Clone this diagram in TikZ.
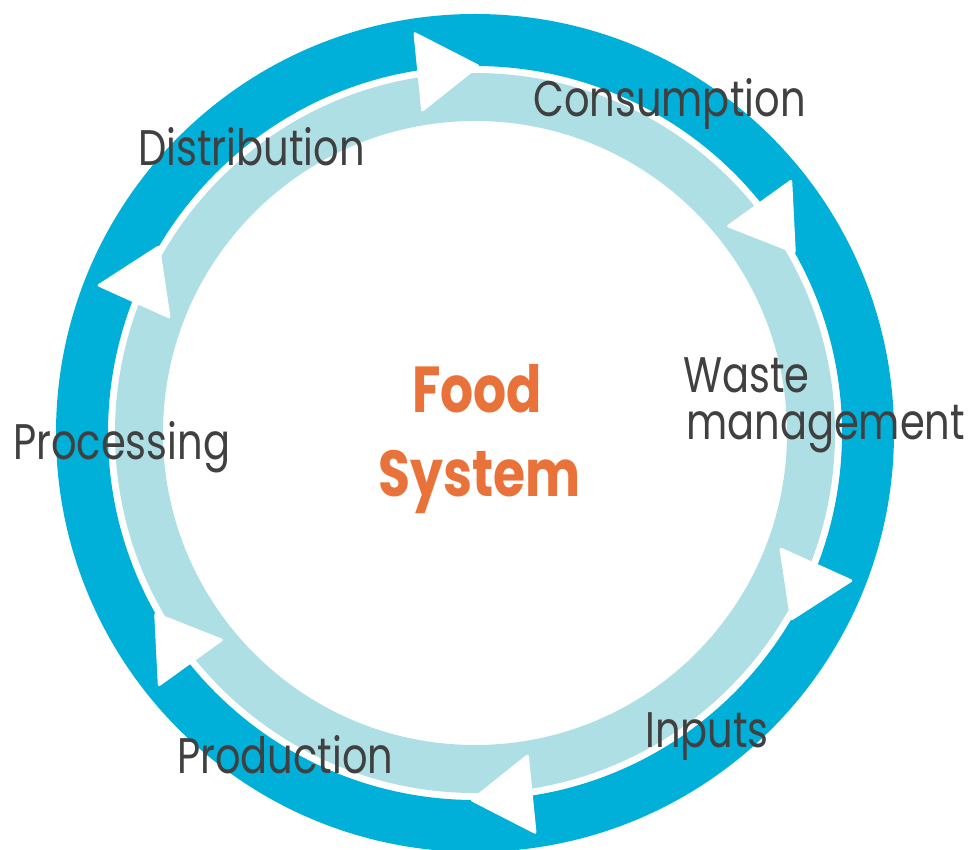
\documentclass[tikz,border=0pt]{standalone}
\usepackage{fontspec}
\setmainfont[FakeStretch=0.80]{Poppins}
\definecolor{darkring}{RGB}{0,176,216}
\definecolor{lightring}{RGB}{174,223,229}
\definecolor{orangetxt}{RGB}{232,114,58}
\definecolor{graytxt}{RGB}{64,64,64}
\tikzset{
  lbl/.style={anchor=base west, inner sep=0pt, text=graytxt, font=\fontsize{50}{50}\selectfont},
  title/.style={anchor=base, inner sep=0pt, text=orangetxt, font=\fontsize{65}{65}\selectfont\bfseries},
  tri/.style={fill=white, draw=white, line width=1pt, rounded corners=2pt},
}
\begin{document}
\begin{tikzpicture}[x=1pt,y=1pt]
\clip (0,0) rectangle (974,849);
\useasboundingbox (0,0) rectangle (974,849);
\coordinate (c) at (475,416);
% rings
\draw[darkring, line width=52pt] (c) circle[radius=393];
\draw[lightring, line width=48pt] (c) circle[radius=336];
% arrows
\foreach \a in {95.7,35.7,-24.3,-84.3,-144.3,155.7}{
  \begin{scope}[shift={(c)}, rotate=\a]
    \path[tri] (325,21) -- (405,21) -- (365,-41) -- cycle;
  \end{scope}
}
% labels
\node[lbl] (cons) at (533,732) {Consumption};
\node[lbl] (dist) at (138,683) {Distribution};
\node[lbl] (waste) at (683,456) {Waste};
\node[lbl] (mgmt) at (686,409) {management};
\node[lbl] (proc) at (13,389) {Processing};
\node[lbl] (inp) at (645,102) {Inputs};
\node[lbl] (prod) at (177,76) {Production};
\node[title] (food) at (477,436) {Food};
\node[title] (sys) at (480,352) {System};
\end{tikzpicture}
\end{document}
